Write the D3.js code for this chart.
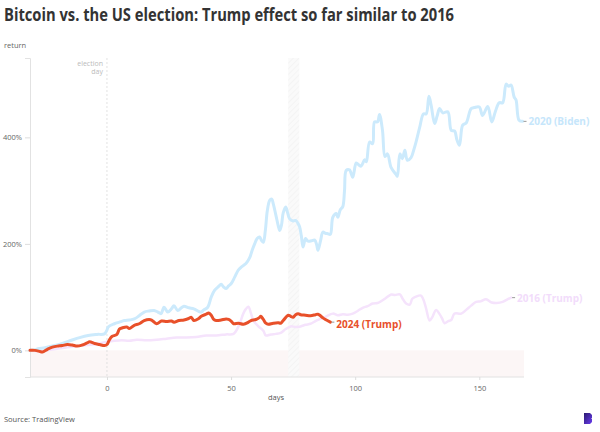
<!DOCTYPE html>
<html><head><meta charset="utf-8">
<script src="https://cdn.jsdelivr.net/npm/d3@7"></script>
<style>
html,body{margin:0;padding:0;background:#fff;}
svg{display:block;font-family:"Open Sans","Noto Sans",sans-serif;}
</style></head>
<body><svg id="c" width="600" height="432"></svg>
<script>
// ---- data (days since election, return %) ----
const days2024 = [-31,-29,-27,-26,-24,-22,-20,-18,-16,-14,-12,-10,-8,-7,-5,-3,-1,0,1,2,4,5,6,8,9,11,13,15,17,18,20,22,24,26,27,29,31,33,34,35,37,38,40,41,42,43,44,46,48,49,50,51,53,55,57,58,60,61.5,62,63,64,65,67,69,70,71,73,74,75,76,77,78,80,82,84,85,86,87,88,90];
const ret2024 = [0,0,-2,-3,2,6,8,9,11,10,8,10,14,16,13,11,9,11,20,26,30,40,42,44,41,47,50,56,58,57,50,55,54,55,53,56,57,60,62,56,60,64,68,70,66,58,56,57,59,58,55,50,51,49,53,56,58,62,64,58,51,49,51,52,51,56,66,64,62,67,69,67,66,65,67,68,65,61,58,53];

const days2016 = [-31,-27,-24,-20,-16,-12,-8,-4,0,3,6,9,12,16,20,24,28,32,36,40,44,48,51,53,55,56,57,58,59,61,63,64,66,68,70,72,74,76,78,80,82,84,86,88,91,93,95,97,99,101,103,105,107,109,110,112,114.5,116,118,119,120.5,122,123,124.5,126.5,127.5,128.5,130,131,132.6,134,135,136,137.5,138.7,140,142.7,144.7,146.7,148.7,150.5,152.7,155,157,159.4,161,162.8];
const ret2016 = [0,-2,0,3,6,8,10,12,16,18,19,18,20,19,20,22,24,24,25,28,28,30,31,45,70,78,82,70,56,45,37,28,30,31,33,40,45,44,45,48,50,55,59,63,69,66,68,67,69,74,80,83,88,89,91,97,105,104,105,98,88,86,97,101,103,95,80,56,62,76,68,60,51,55,57,69,69,76,84,91,92,96,90,89,91,95,99];

const days2020 = [-31,-29,-27.8,-25,-21,-18,-14.3,-11,-7.6,-4,-1,0,0.5,3,5,7,9,11,13,15,17,19,20.5,21.8,23,24.5,26,27,28.5,30,31,33,35,37,38,39,40.6,42,43.4,45,46,47,48,49,50,51.5,52.8,54,56,57.5,58.5,59.5,60.5,61.5,62.3,63,63.8,64.6,65.6,66.4,67,68,69,69.6,70.3,71,72,72.8,73.6,75,76,77,77.6,78.3,79,80,81,82.5,83.7,84.5,85,86,87,88,89,90,91,92.4,93,94,95,95.7,96.4,97.7,99,100.4,101.5,102.4,103.8,104.5,105.8,107,107.8,109,109.8,111,112,113,114.5,116.5,117,118,119,120,121,122.5,123.5,124.5,126,127.5,128.6,129.7,130.6,132,133,134,135.3,137.3,138.7,140,141,142,143.3,144.7,146.7,148,150,151.3,153.4,155,156.5,158,159.4,160.8,161.8,162.8,164,164.8,166,167.4];
const ret2020 = [0,1,3,5,9,13,19,24,28,30,31,38,44,50,53,56,57,59,65,72,74,75,72,69,81,72,78,84,75,80,83,80,78,73,72,76,81,100,113,120,124,119,116,121,125,138,150,156,163,174,188,200,210,213,206,203,225,262,282,284,275,255,234,225,235,258,269,258,247,243,244,238,232,215,194,210,205,206,207,198,188,205,222,220,219,218,250,257,250,264,270,300,338,339,325,352,348,346,358,354,391,388,429,429,443,413,364,369,343,330,327,369,360,376,357,362,375,391,419,444,444,477,460,426,440,454,446,448,413,412,395,385,423,427,454,456,457,441,458,429,449,465,465,500,496,498,476,470,432,430];

const yTicks = [0,200,400];
const yTickLabels = ["0%","200%","400%"];
const xTicks = [0,50,100,150];
const highlightDays = [73,77.5];
const electionDay = 0;

const series = [
  {name:"2016 (Trump)", days:days2016, ret:ret2016, color:"#f5e3fc", w:2.5, textColor:"#f2dcfb", dy:1},
  {name:"2020 (Biden)", days:days2020, ret:ret2020, color:"#cceafc", w:3, textColor:"#c6e6fb", dy:0},
  {name:"2024 (Trump)", days:days2024, ret:ret2024, color:"#e8502a", w:3, textColor:"#e8502a", dy:2}
];

// ---- drawing ----
const svg = d3.select("#c");
const x = d3.scaleLinear().domain([-31,168]).range([30,524]);
const y = d3.scaleLinear().domain([-50,549]).range([377,58]);

// title
const title = svg.append("text").attr("x",4).attr("y",21)
  .attr("font-weight",700).attr("font-size",17).attr("fill","#333")
  .text("Bitcoin vs. the US election: Trump effect so far similar to 2016");
const tw = title.node().getComputedTextLength();
if (tw > 0) title.attr("textLength",450).attr("lengthAdjust","spacingAndGlyphs");

svg.append("text").attr("x",4).attr("y",48).attr("font-size",7.5).attr("fill","#666").text("return");

// negative band
svg.append("rect").attr("x",x(-31)).attr("y",y(0)).attr("width",x(168)-x(-31)).attr("height",y(-50)-y(0)).attr("fill","#fcf6f6");

// hatch pattern band
const defs = svg.append("defs");
const pat = defs.append("pattern").attr("id","hatch").attr("patternUnits","userSpaceOnUse").attr("width",4).attr("height",4).attr("patternTransform","rotate(45)");
pat.append("rect").attr("width",4).attr("height",4).attr("fill","#fafafa");
pat.append("line").attr("x1",0).attr("y1",0).attr("x2",0).attr("y2",4).attr("stroke","#f3f3f3").attr("stroke-width",1.5);
svg.append("rect").attr("x",x(highlightDays[0])).attr("y",y(549)).attr("width",x(highlightDays[1])-x(highlightDays[0])).attr("height",y(-50)-y(549)).attr("fill","url(#hatch)");

// election day line
svg.append("line").attr("x1",x(electionDay)).attr("x2",x(electionDay)).attr("y1",y(549)).attr("y2",y(-50))
  .attr("stroke","#dcdcdc").attr("stroke-width",0.8).attr("stroke-dasharray","2,2");
const ed = svg.append("text").attr("text-anchor","end").attr("font-size",7).attr("fill","#bbb");
ed.append("tspan").attr("x",x(electionDay)-4).attr("y",66).text("election");
ed.append("tspan").attr("x",x(electionDay)-4).attr("y",74).text("day");

// axes
const yAxis = d3.axisLeft(y).tickValues(yTicks).tickFormat((d,i)=>yTickLabels[i]).tickSize(5).tickPadding(3);
const gy = svg.append("g").attr("transform",`translate(${x(-31)},0)`).call(yAxis);
gy.select(".domain").attr("stroke","#e2e2e2");
gy.selectAll(".tick line").attr("stroke","#ddd");
gy.selectAll("text").attr("font-size",7.5).attr("fill","#666").attr("font-family","Open Sans, sans-serif");

const xAxis = d3.axisBottom(x).tickValues(xTicks).tickSize(3).tickPadding(6);
const gx = svg.append("g").attr("transform",`translate(0,${y(-50)})`).call(xAxis);
gx.select(".domain").attr("stroke","#e2e2e2").attr("d",`M${x(-31)},0H${x(168)}`);
gx.selectAll(".tick line").attr("stroke","#ddd");
gx.selectAll("text").attr("font-size",7.5).attr("fill","#666").attr("font-family","Open Sans, sans-serif");

svg.append("text").attr("x",276).attr("y",400).attr("text-anchor","middle").attr("font-size",7.5).attr("fill","#555").text("days");

// lines
const line = d3.line().x(d=>x(d[0])).y(d=>y(d[1])).curve(d3.curveCatmullRom.alpha(0.5));
series.forEach(s=>{
  const pts = s.days.map((d,i)=>[d,s.ret[i]]);
  svg.append("path").datum(pts).attr("d",line).attr("fill","none")
    .attr("stroke",s.color).attr("stroke-width",s.w).attr("stroke-linejoin","round").attr("stroke-linecap","round");
  const last = pts[pts.length-1];
  const lx = x(last[0]), ly = y(last[1]);
  svg.append("line").attr("x1",lx+1).attr("x2",lx+4).attr("y1",ly).attr("y2",ly).attr("stroke","#999").attr("stroke-width",1);
  svg.append("text").attr("x",lx+6).attr("y",ly+3.5+s.dy).attr("font-size",10).attr("font-weight",700)
    .attr("fill",s.textColor).text(s.name);
});

// source
svg.append("text").attr("x",4).attr("y",422).attr("font-size",7.5).attr("fill","#555").text("Source: TradingView");

// logo
const lg = defs.append("linearGradient").attr("id","lg").attr("x1",0).attr("y1",0).attr("x2",1).attr("y2",1);
lg.append("stop").attr("offset","0%").attr("stop-color","#2a1a6e");
lg.append("stop").attr("offset","100%").attr("stop-color","#6a3cf0");
svg.append("path").attr("d","M584,413 H590 L592,415 V418 L591,418.5 L592,419 V422 L590,424 H584 Z").attr("fill","url(#lg)");
</script>
</body></html>
